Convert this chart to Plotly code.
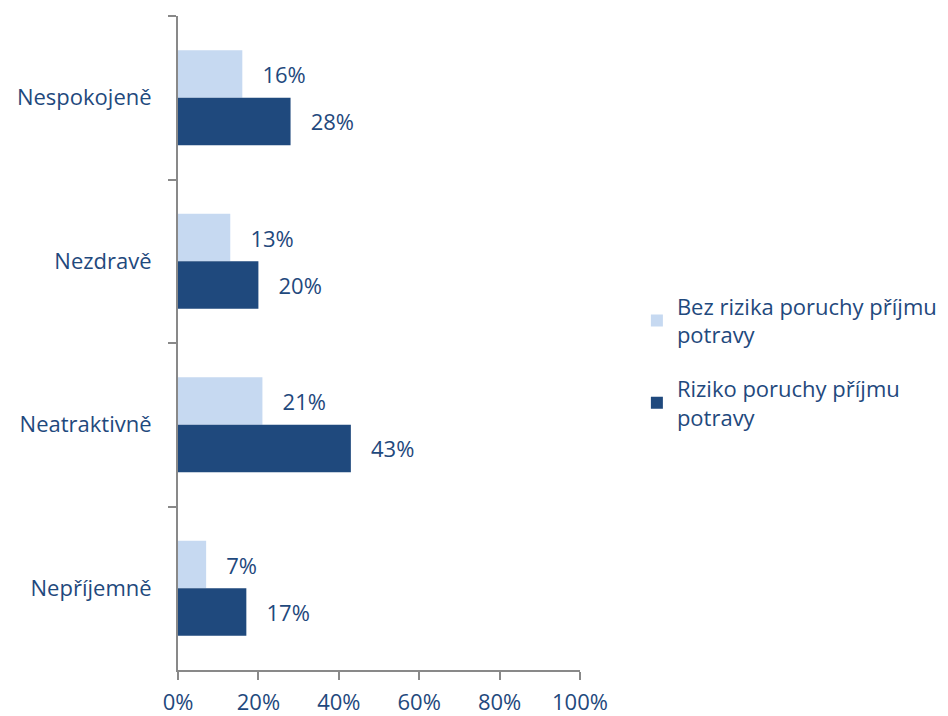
import plotly.graph_objects as go

categories = ["Nespokojeně", "Nezdravě", "Neatraktivně", "Nepříjemně"]
bez_rizika = [0.16, 0.13, 0.21, 0.07]
riziko = [0.28, 0.20, 0.43, 0.17]
series_names = ["Bez rizika poruchy příjmu<br>potravy", "Riziko poruchy příjmu<br>potravy"]
colors = ["#C6D9F1", "#1F497D"]
x_ticks = [0, 0.2, 0.4, 0.6, 0.8, 1.0]
x_ticklabels = ["0%", "20%", "40%", "60%", "80%", "100%"]

text_color = "#1F497D"
font_family = "Open Sans, Noto Sans, sans-serif"
fs = 22

fig = go.Figure()
for i, (name, vals, col) in enumerate(zip(series_names, [bez_rizika, riziko], colors)):
    fig.add_trace(go.Bar(
        y=categories, x=vals, name=name, orientation="h",
        legendgroup=f"g{i}",
        marker=dict(color=col, line=dict(width=0)),
        text=[f"{round(v*100)}%" for v in vals],
        textposition="outside",
        texttemplate="   %{text}",
        textfont=dict(size=fs, color=text_color, family=font_family),
        cliponaxis=False,
    ))

# page body has an 8px default margin, so the figure is 8px smaller and offset
fig.update_layout(
    width=940, height=708,
    barmode="group", bargap=0.42, bargroupgap=0,
    plot_bgcolor="white", paper_bgcolor="white",
    margin=dict(l=170, r=368, t=8, b=46, autoexpand=False),
    font=dict(family=font_family, size=fs, color=text_color),
    legend=dict(
        x=1.1415, y=0.471, xanchor="left", yanchor="middle",
        font=dict(size=fs, color=text_color, family=font_family),
        traceorder="grouped", tracegroupgap=22, itemwidth=30,
    ),
    showlegend=True,
)
fig.update_xaxes(
    range=[0, 1], tickvals=x_ticks, ticktext=x_ticklabels,
    showgrid=False, zeroline=False, automargin=False,
    showline=True, linecolor="#898989", linewidth=2,
    ticks="outside", ticklen=8, tickcolor="#898989", tickwidth=2,
    ticklabelstandoff=4,
    tickfont=dict(size=fs, color=text_color, family=font_family),
)
fig.update_yaxes(
    categoryorder="array", categoryarray=categories, autorange="reversed",
    showgrid=False, zeroline=False, automargin=False,
    showline=True, linecolor="#898989", linewidth=2,
    ticks="outside", ticklen=8, tickcolor="#898989", tickwidth=2,
    tickson="boundaries", ticklabelstandoff=20,
    tickfont=dict(size=fs, color=text_color, family=font_family),
)

fig.write_html("out.html")
